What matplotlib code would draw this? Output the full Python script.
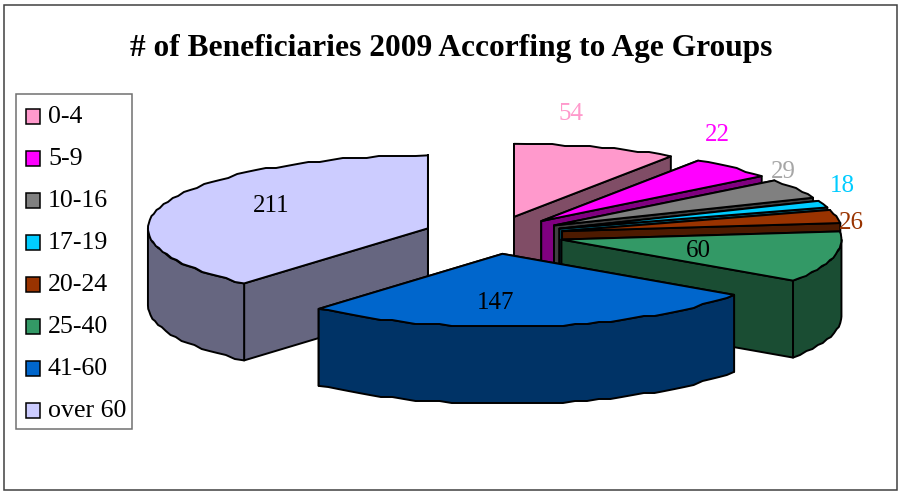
import numpy as np
import matplotlib
matplotlib.use("Agg")
import matplotlib.pyplot as plt
from matplotlib.patches import Polygon, Rectangle

# data
groups = ["0-4", "5-9", "10-16", "17-19", "20-24", "25-40", "41-60", "over 60"]
beneficiaries = [54, 22, 29, 18, 26, 60, 147, 211]
top_colors = ["#FF99CC", "#FF00FF", "#808080", "#00CCFF", "#993300", "#339966", "#0066CC", "#CCCCFF"]
label_colors = ["#FF99CC", "#FF00FF", "#A6A6A6", "#00CCFF", "#993300", "#000000", "#000000", "#000000"]
title = "# of Beneficiaries 2009 Accorfing to Age Groups"

# pie geometry, in pixels
CX, CY = 493.5, 235
RX, RY = 280, 73
EX, EY = 70, 19
DEPTH = 77
# perspective makes the screen angle differ from the true one
WARP_IN = [0, 34, 48.3, 66.7, 78.1, 94.6, 132.7, 226, 360]
WARP_OUT = [0, 0.3, -3.7, -1, 5, 11, 8.5, 5, 0]
label_xy = [(571, 113), (717, 134), (783, 171), (842, 185), (851, 222), (698, 250), (496, 302), (271, 205)]
LINE = 1.4
SERIF = "Liberation Serif"


def darken(color):
    rgb = np.array(matplotlib.colors.to_rgb(color))
    return tuple(rgb * 0.5)


def screen_angle(theta):
    return theta - np.interp(theta, WARP_IN, WARP_OUT)


def rim_points(t0, t1, ax0, ay0):
    n = max(int((t1 - t0) / 2.5), 1)
    t = np.radians(np.linspace(t0, t1, n + 1))
    x = ax0 + RX * np.sin(t)
    y = ay0 - RY * np.cos(t)
    # the original rim is a rough, wobbly polyline
    y[1:-1] = np.round(y[1:-1] / 2.0) * 2.0
    return x, y


def draw_face(ax, x, y, color, z):
    ax.add_patch(Polygon(np.column_stack([x, y]), closed=True, facecolor=color,
                         edgecolor="black", lw=LINE, joinstyle="round", zorder=z))


def draw_slice(ax, t0, t1, color, z):
    mid = np.radians((t0 + t1) / 2)
    ax0 = CX + EX * np.sin(mid)
    ay0 = CY - EY * np.cos(mid)
    rx, ry = rim_points(t0, t1, ax0, ay0)
    side = darken(color)

    # cut faces
    for px, py in [(rx[0], ry[0]), (rx[-1], ry[-1])]:
        draw_face(ax, [ax0, px, px, ax0], [ay0, py, py + DEPTH, ay0 + DEPTH], side, z)

    # outer wall, only the part turned towards the viewer
    lo, hi = max(t0, 90), min(t1, 270)
    if hi > lo:
        fx, fy = rim_points(lo, hi, ax0, ay0)
        draw_face(ax, np.r_[fx, fx[::-1]], np.r_[fy, fy[::-1] + DEPTH], side, z)

    # top
    draw_face(ax, np.r_[ax0, rx], np.r_[ay0, ry], color, z + 0.5)


def main():
    fig = plt.figure(figsize=(8.98, 4.91), dpi=100)
    ax = fig.add_axes([0, 0, 1, 1])
    ax.set_xlim(0, 898)
    ax.set_ylim(491, 0)
    ax.axis("off")

    ax.add_patch(Rectangle((4, 5), 893, 485, fill=False, edgecolor="#404040", lw=1.1, zorder=0))
    ax.text(451, 48, title, ha="center", va="center", family=SERIF, weight="bold", fontsize=22.6, color="black")

    # slices
    edges = np.r_[0, np.cumsum(beneficiaries)] / sum(beneficiaries) * 360
    angles = screen_angle(edges)
    # the largest slice is painted before the 41-60 one, which sits in front
    order = [0, 1, 2, 3, 4, 5, 7, 6]
    for z, i in enumerate(order):
        draw_slice(ax, angles[i], angles[i + 1], top_colors[i], 2 + z)

    for i, value in enumerate(beneficiaries):
        ax.text(label_xy[i][0], label_xy[i][1] + 1, str(value), ha="center", va="center",
                family=SERIF, fontsize=18, color=label_colors[i], zorder=20)

    # legend
    ax.add_patch(Rectangle((16, 93.5), 116, 335.5, facecolor="white", edgecolor="#707070", lw=1.1, zorder=1))
    for i, name in enumerate(groups):
        yc = 116 + 42 * i
        ax.add_patch(Rectangle((25.5, yc - 7), 14.5, 14.5, facecolor=top_colors[i], edgecolor="black", lw=1.1, zorder=2))
        ax.text(48, yc + 1, name, ha="left", va="center", family=SERIF, fontsize=18.6, color="black", zorder=2)

    fig.savefig("out.png", dpi=100)
    plt.close(fig)


if __name__ == "__main__":
    main()
